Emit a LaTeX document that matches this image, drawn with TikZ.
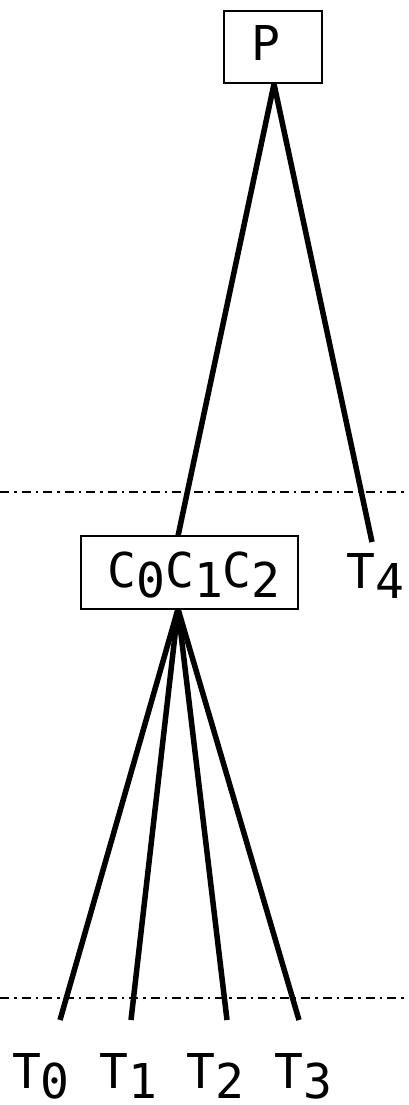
\documentclass[tikz,border=0pt]{standalone}
\usepackage{fontspec}
\newfontfamily\labelfont{DejaVu Sans Mono}
\begin{document}
\begin{tikzpicture}[x=1pt,y=-1pt,
  lbl/.style={font=\labelfont\fontsize{48}{50}\selectfont, inner sep=0pt, anchor=base},
  boxed/.style={draw, line width=2pt, inner sep=0pt},
  branch/.style={line width=5.5pt},
  level/.style={line width=2pt, dash pattern=on 9pt off 5pt on 2.5pt off 5pt}]
\newcommand\lowered[1]{\raisebox{-10pt}{#1}}
\useasboundingbox (0,0) rectangle (408,1105);
% boxes
\node[boxed, minimum width=98pt, minimum height=72pt] (P) at (273,47) {};
\node[lbl] (Ptxt) at (266,61) {P};
\node[boxed, minimum width=217pt, minimum height=73pt] (C) at (189.5,572.5) {};
\node[lbl] (Ctxt) at (194,587) {C\lowered{0}C\lowered{1}C\lowered{2}};
% leaf labels
\node[lbl] (T4) at (375,588) {T\lowered{4}};
\node[lbl] (T0) at (41,1088) {T\lowered{0}};
\node[lbl] (T1) at (128,1088) {T\lowered{1}};
\node[lbl] (T2) at (215,1088) {T\lowered{2}};
\node[lbl] (T3) at (303,1088) {T\lowered{3}};
% connector ends
\coordinate (e4) at (372,542);
\coordinate (e0) at (60,1020);
\coordinate (e1) at (131,1020);
\coordinate (e2) at (227,1020);
\coordinate (e3) at (299,1020);
\coordinate (ctop) at (178,536);
\coordinate (cbot) at (178,609);
% level separators
\draw[level] (0,492) -- (408,492);
\draw[level] (0,998) -- (408,998);
% branches
\draw[branch] (P.south) ++(1,0) coordinate (pb) -- (ctop);
\draw[branch] (pb) -- (e4);
\foreach \e in {e0,e1,e2,e3} \draw[branch] (cbot) -- (\e);
\end{tikzpicture}
\end{document}
